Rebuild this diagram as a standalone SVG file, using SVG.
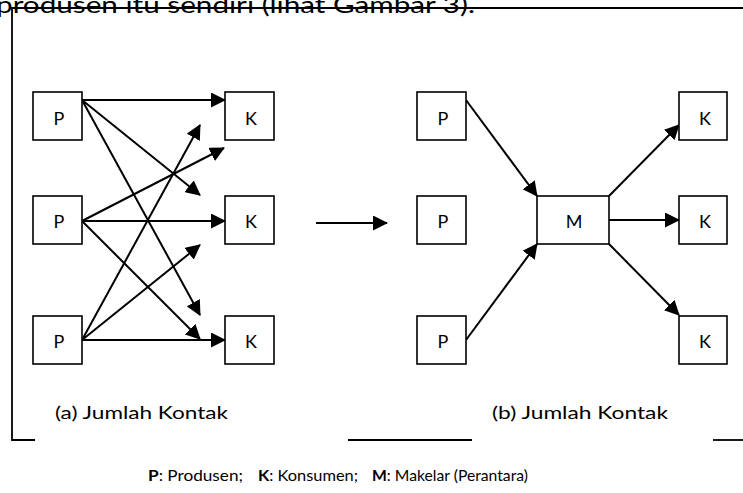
<svg xmlns="http://www.w3.org/2000/svg" width="743" height="493" viewBox="0 0 743 493">
<style>
.box{fill:#fff;stroke:#000;stroke-width:1.6}
.lbl{font-family:Lato,"Open Sans","Liberation Sans",sans-serif;font-size:18px;fill:#000;text-anchor:middle}
.cap{font-family:Lato,"Open Sans","Liberation Sans",sans-serif;font-size:17px;fill:#000}
.leg{font-family:Lato,"Open Sans","Liberation Sans",sans-serif;font-size:16px;fill:#000}
.frame{fill:none;stroke:#000;stroke-width:1.8}
.con{fill:none;stroke:#000;stroke-width:2;marker-end:url(#ah)}
</style>
<defs>
<marker id="ah" markerUnits="userSpaceOnUse" markerWidth="15" markerHeight="15" viewBox="0 0 15 15" refX="14" refY="7.5" orient="auto">
<path d="M0,0 L15,7.5 L0,15 z" fill="#000"/>
</marker>
</defs>
<rect width="743" height="493" fill="#fff"/>
<text x="-4" y="13" font-family="Lato,'Open Sans','Liberation Sans',sans-serif" font-size="24" fill="#000" textLength="479" lengthAdjust="spacingAndGlyphs">produsen itu sendiri (lihat Gambar 3).</text>
<g id="frame">
<path class="frame" d="M743,8 H12 V440 H35"/>
<path class="frame" d="M348,440 H472"/>
<path class="frame" d="M713,440 H743"/>
</g>
<g id="connectors">
<path class="con" d="M82,100 L225,100"/>
<path class="con" d="M82,100 L200,195"/>
<path class="con" d="M82,100 L200,315"/>
<path class="con" d="M82,221 L224,148"/>
<path class="con" d="M82,221 L225,221"/>
<path class="con" d="M82,221 L200,339"/>
<path class="con" d="M82,340 L200,125"/>
<path class="con" d="M82,340 L200,245"/>
<path class="con" d="M82,340 L225,340"/>
<path class="con" d="M316,223 L387,223"/>
<path class="con" d="M466,100 L537,196"/>
<path class="con" d="M466,340 L537,244"/>
<path class="con" d="M609,196 L679,125"/>
<path class="con" d="M609,220 L679,220"/>
<path class="con" d="M609,244 L679,315"/>
</g>
<g id="p1"><rect class="box" x="33" y="92" width="49" height="48"/><text class="lbl" x="59" y="125">P</text></g>
<g id="p2"><rect class="box" x="33" y="196" width="49" height="48"/><text class="lbl" x="59" y="228">P</text></g>
<g id="p3"><rect class="box" x="33" y="316" width="49" height="48"/><text class="lbl" x="59" y="348">P</text></g>
<g id="k1"><rect class="box" x="225" y="92" width="49" height="48"/><text class="lbl" x="251" y="125">K</text></g>
<g id="k2"><rect class="box" x="225" y="196" width="49" height="48"/><text class="lbl" x="251" y="228">K</text></g>
<g id="k3"><rect class="box" x="225" y="316" width="49" height="48"/><text class="lbl" x="251" y="348">K</text></g>
<g id="p4"><rect class="box" x="417" y="92" width="49" height="48"/><text class="lbl" x="443" y="125">P</text></g>
<g id="p5"><rect class="box" x="417" y="196" width="49" height="48"/><text class="lbl" x="443" y="228">P</text></g>
<g id="p6"><rect class="box" x="417" y="316" width="49" height="48"/><text class="lbl" x="443" y="348">P</text></g>
<g id="m"><rect class="box" x="537" y="196" width="72" height="48"/><text class="lbl" x="574" y="228">M</text></g>
<g id="k4"><rect class="box" x="679" y="92" width="48" height="48"/><text class="lbl" x="705" y="125">K</text></g>
<g id="k5"><rect class="box" x="679" y="196" width="48" height="48"/><text class="lbl" x="705" y="228">K</text></g>
<g id="k6"><rect class="box" x="679" y="316" width="48" height="48"/><text class="lbl" x="705" y="348">K</text></g>
<g id="captions">
<text class="cap" x="55" y="419" textLength="173" lengthAdjust="spacingAndGlyphs">(a) Jumlah Kontak</text>
<text class="cap" x="492" y="419" textLength="176" lengthAdjust="spacingAndGlyphs">(b) Jumlah Kontak</text>
<text class="leg" x="148" y="481" textLength="95" lengthAdjust="spacingAndGlyphs"><tspan font-weight="bold">P</tspan>: Produsen;</text>
<text class="leg" x="258" y="481" textLength="100" lengthAdjust="spacingAndGlyphs"><tspan font-weight="bold">K</tspan>: Konsumen;</text>
<text class="leg" x="372" y="481" textLength="156" lengthAdjust="spacingAndGlyphs"><tspan font-weight="bold">M</tspan>: Makelar (Perantara)</text>
</g>
</svg>
